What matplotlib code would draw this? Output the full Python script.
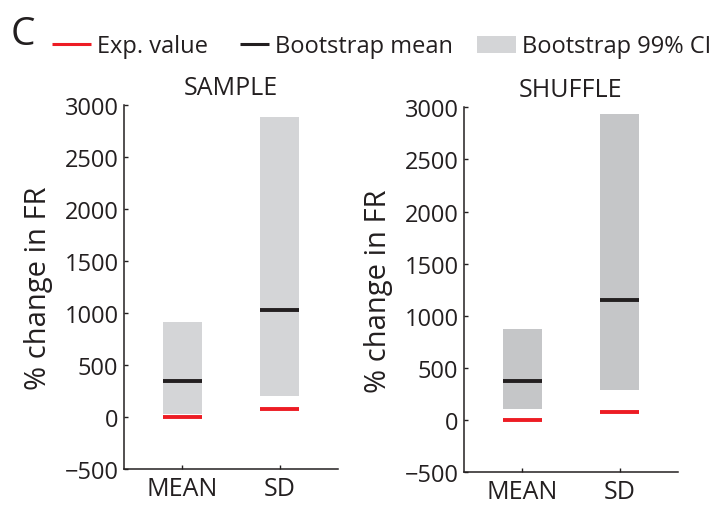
import numpy as np
import matplotlib
matplotlib.use("Agg")
import matplotlib.pyplot as plt
from matplotlib.lines import Line2D
from matplotlib.patches import Rectangle

plt.rcParams['font.family'] = ['Open Sans', 'DejaVu Sans']

# --- data: % change in firing rate, bootstrap summary per condition ---
categories = ["MEAN", "SD"]
panels = ["SAMPLE", "SHUFFLE"]

ci_low = {"SAMPLE": [32, 198], "SHUFFLE": [105, 288]}
ci_high = {"SAMPLE": [915, 2885], "SHUFFLE": [870, 2940]}
boot_mean = {"SAMPLE": [342, 1025], "SHUFFLE": [378, 1154]}
exp_value = {"SAMPLE": [2, 73], "SHUFFLE": [0, 74]}

ci_colors = {"SAMPLE": "#d4d5d7", "SHUFFLE": "#c5c6c8"}
RED = "#ed1c24"
INK = "#231f20"

W, H = 720, 506
fig = plt.figure(figsize=(W / 100, H / 100), dpi=100)

# axes boxes in pixels (left, top, right, bottom)
boxes = {"SAMPLE": (124, 105.7, 338, 470), "SHUFFLE": (464, 108.3, 678, 473.3)}

bar_w = 0.4
for name in panels:
    l, t, r, b = boxes[name]
    ax = fig.add_axes([l / W, 1 - b / H, (r - l) / W, (b - t) / H])
    x = np.arange(1, len(categories) + 1)

    lo = np.array(ci_low[name])
    hi = np.array(ci_high[name])
    ax.bar(x, hi - lo, bottom=lo, width=bar_w, color=ci_colors[name],
           edgecolor="none", zorder=1)
    ax.hlines(boot_mean[name], x - bar_w / 2, x + bar_w / 2, color=INK,
              linewidth=2.8, capstyle="butt", zorder=2)
    ax.hlines(exp_value[name], x - bar_w / 2, x + bar_w / 2, color=RED,
              linewidth=2.8, capstyle="butt", zorder=2)

    ax.set_xlim(0.4, 2.6)
    ax.set_ylim(-500, 3000)
    ax.set_yticks(np.arange(-500, 3001, 500))
    ax.set_xticks(x)
    ax.set_xticklabels(categories)
    ax.tick_params(direction="in", length=3, width=1, colors=INK,
                   labelsize=17, pad=4)
    ax.tick_params(axis="x", labelsize=18, pad=5)
    for s in ["top", "right"]:
        ax.spines[s].set_visible(False)
    for s in ["left", "bottom"]:
        ax.spines[s].set_linewidth(1.1)
        ax.spines[s].set_color(INK)

    ax.set_title(name, fontsize=18, color=INK, pad=8)
    ax.set_ylabel("% change in FR", fontsize=21, color=INK)
    ax.yaxis.set_label_coords(-0.33, 0.5)

# --- panel letter and legend along the top ---
fig.text(11 / W, 1 - 45 / H, "C", fontsize=28, color=INK, va="baseline")

def px(x, y):
    return x / W, 1 - y / H

leg_y = 45
base_y = 53
fig.add_artist(Line2D([52 / W, 91 / W], [1 - leg_y / H] * 2, color=RED,
                      linewidth=2.2, solid_capstyle="butt"))
fig.text(*px(97, base_y), "Exp. value", fontsize=17, color=INK, va="baseline")
fig.add_artist(Line2D([240 / W, 269 / W], [1 - leg_y / H] * 2, color=INK,
                      linewidth=2.2, solid_capstyle="butt"))
fig.text(*px(275, base_y), "Bootstrap mean", fontsize=17, color=INK,
         va="baseline")
fig.add_artist(Rectangle(px(477, 54), 39 / W, 17 / H, transform=fig.transFigure,
                         facecolor=ci_colors["SAMPLE"], edgecolor="none"))
fig.text(*px(522, base_y), "Bootstrap 99% CI", fontsize=17, color=INK,
         va="baseline")

fig.savefig("out.png", dpi=100)
